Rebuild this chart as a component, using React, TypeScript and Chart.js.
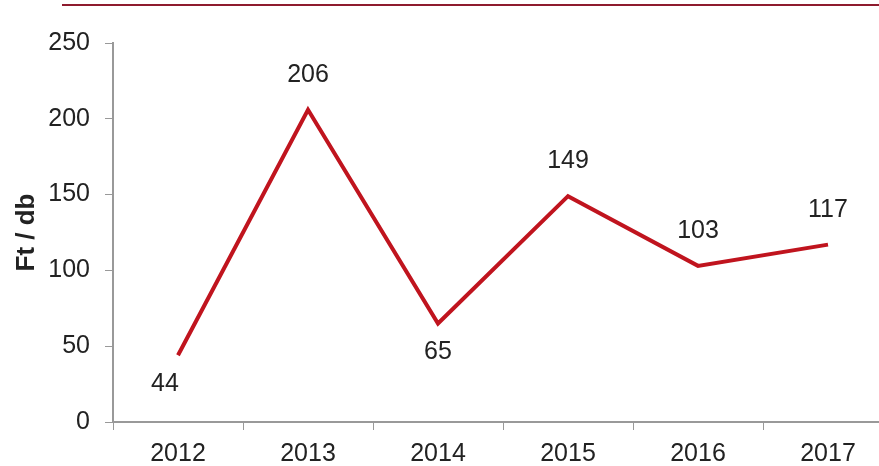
import React, { useEffect, useRef } from "react";
import { Chart, registerables } from "chart.js";

Chart.register(...registerables);

const categories = ["2012", "2013", "2014", "2015", "2016", "2017"];
const values = [44, 206, 65, 149, 103, 117];
const labelSides = ["below", "above", "below", "above", "above", "above"];
const yTicks = [0, 50, 100, 150, 200, 250];

const FONT = "'Liberation Sans', Arial, sans-serif";
const FS = 25;

const labelPlugin = {
  id: "valueLabels",
  afterDatasetsDraw(chart: any) {
    const ctx = chart.ctx;
    const meta = chart.getDatasetMeta(0);
    ctx.save();
    ctx.font = `${FS}px ${FONT}`;
    ctx.fillStyle = "#222";
    ctx.textAlign = "center";
    ctx.textBaseline = "middle";
    meta.data.forEach((pt: any, i: number) => {
      const below = labelSides[i] === "below";
      const dx = i === 0 ? -13 : 0;
      ctx.fillText(String(values[i]), pt.x + dx, pt.y + (below ? 29 : -35));
    });
    ctx.restore();
  },
};

const topLinePlugin = {
  id: "topLine",
  beforeDraw(chart: any) {
    const ctx = chart.ctx;
    ctx.save();
    ctx.strokeStyle = "#8E1B2E";
    ctx.lineWidth = 2;
    ctx.beginPath();
    ctx.moveTo(62, 5);
    ctx.lineTo(chart.width, 5);
    ctx.stroke();
    ctx.restore();
  },
};

export default function App() {
  const ref = useRef<HTMLCanvasElement>(null);
  useEffect(() => {
    if (!ref.current) return;
    const chart = new Chart(ref.current, {
      type: "line",
      data: {
        labels: categories,
        datasets: [
          {
            data: values,
            borderColor: "#C0141E",
            borderWidth: 4,
            pointRadius: 0,
            tension: 0,
            fill: false,
          },
        ],
      },
      plugins: [labelPlugin, topLinePlugin],
      options: {
        animation: false,
        responsive: false,
        layout: { padding: { top: 43, right: 7, left: 0, bottom: 0 } },
        plugins: { legend: { display: false }, tooltip: { enabled: false } },
        scales: {
          x: {
            offset: true,
            grid: {
              drawOnChartArea: false,
              drawTicks: true,
              tickLength: 8,
              color: "#999",
              offset: true,
            },
            border: { display: true, color: "#999", width: 2 },
            ticks: {
              color: "#222",
              font: { family: FONT, size: FS },
              padding: 9,
              maxRotation: 0,
            },
            afterFit(scale: any) {
              scale.height = 44;
            },
          },
          y: {
            min: 0,
            max: 250,
            afterBuildTicks(scale: any) {
              scale.ticks = yTicks.map((v) => ({ value: v }));
            },
            grid: {
              drawOnChartArea: false,
              drawTicks: true,
              tickLength: 8,
              color: "#999",
            },
            border: { display: true, color: "#999", width: 2 },
            ticks: {
              color: "#222",
              font: { family: FONT, size: FS },
              padding: 15,
            },
            title: {
              display: true,
              text: "Ft / db",
              color: "#222",
              font: { family: FONT, size: 26, weight: "bold" },
              padding: { top: 11, bottom: 0 },
            },
            afterFit(scale: any) {
              scale.width = 113;
            },
          },
        },
      },
    } as any);
    return () => chart.destroy();
  }, []);
  return (
    <div
      style={{
        position: "absolute",
        left: 0,
        top: 0,
        width: 879,
        height: 466,
        overflow: "hidden",
        background: "#fff",
      }}
    >
      <canvas ref={ref} width={900} height={466} style={{ width: 900, height: 466, display: "block" }} />
    </div>
  );
}
